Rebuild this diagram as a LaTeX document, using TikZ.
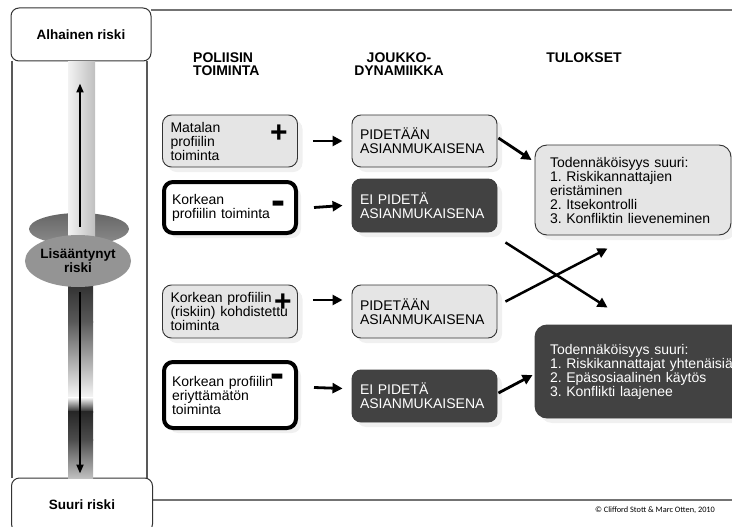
\documentclass[tikz,border=0pt]{standalone}
\usepackage{fontspec}
\setmainfont{Liberation Sans}
\newfontfamily\copyfont{Carlito}
\usetikzlibrary{arrows.meta,shadows,shapes.geometric}
\frenchspacing

\begin{document}
\begin{tikzpicture}[x=1pt, y=-1pt,
  >={Triangle[length=10pt, width=10pt]},
  txt/.style={font=\fontsize{14}{14}\selectfont},
  head/.style={font=\bfseries\fontsize{14}{13}\selectfont, inner sep=0pt},
  box/.style={txt, rounded corners=9pt, inner xsep=8pt, align=left,
    drop shadow={shadow xshift=5pt, shadow yshift=-5pt, opacity=0.12}},
  light/.style={box, draw=black!80, line width=0.9pt, fill=black!10},
  heavy/.style={box, draw=black, line width=4pt, fill=white},
  dark/.style={box, draw=black!75, line width=0.9pt, fill=black!74, text=white},
  riskbox/.style={draw=black!80, line width=1pt, fill=white, rounded corners=8pt,
    minimum width=140pt, minimum height=53pt, font=\bfseries\fontsize{13.5}{14}\selectfont},
  sign/.style={font=\bfseries\fontsize{30}{30}\selectfont, inner sep=0pt},
  minus/.style={font=\bfseries\fontsize{42}{42}\selectfont, inner sep=0pt, anchor=base},
  arr/.style={->, line width=2.8pt},
]
\useasboundingbox (0,0) rectangle (732,527);
\clip (0,0) rectangle (732,527);

\draw [line width=2pt, black!55] (151,10) -- (732,10);
\draw [line width=2pt, black!55] (152,500) -- (732,500);
\draw [line width=1.5pt, black!65] (12,61) -- (12,478);
\draw [line width=1.5pt, black!65] (147,61) -- (147,478);

\node[riskbox] (lowrisk) at (81,34.5) {Alhainen riski};
\node[riskbox, minimum width=141pt, minimum height=54pt] (highrisk) at (82,505) {Suuri riski};

\shade [top color=black!60, bottom color=black!45] (79,229) ellipse [x radius=50pt, y radius=16pt];
\shade [left color=black!5, right color=black!25] (68,62) rectangle (95,245);
\shade [top color=black!80, bottom color=black!65] (68,286) rectangle (93,322);
\shade [top color=black!65, bottom color=black!3] (68,321.5) rectangle (93,398);
\shade [top color=black!3, bottom color=black!85] (68,397.5) rectangle (93,412);
\shade [top color=black!85, bottom color=black!70] (68,411.5) rectangle (93,440);
\shade [top color=black!70, bottom color=black!25] (68,439.5) rectangle (93,478);

\node[ellipse, fill=black!42, minimum width=92pt, minimum height=52pt, inner sep=0pt,
  align=center, font=\bfseries\fontsize{13.5}{14}\selectfont] (midrisk) at (78,261) {Lisääntynyt\\riski};

\draw [->, line width=2pt, >={Triangle[length=9pt, width=7pt]}]
  ([xshift=2pt, yshift=8pt]midrisk.north) -- ([xshift=-1pt, yshift=-22pt]lowrisk.south);
\draw [->, line width=2pt, >={Triangle[length=9pt, width=7pt]}]
  ([xshift=2pt, yshift=-5pt]midrisk.south) -- ([xshift=-2pt, yshift=4pt]highrisk.north);

\node[head, anchor=west, align=left] (polhead) at (193,64) {POLIISIN\\TOIMINTA};
\node[head, align=center] (crowdhead) at (399,64) {JOUKKO-\\DYNAMIIKKA};
\node[head] (reshead) at (584,57.5) {TULOKSET};

\node[light, text width=119pt, minimum height=52pt] (pol1) at (230,141) {Matalan\\profiilin\\toiminta};
\node[heavy, text width=116pt, minimum height=51pt] (pol2) at (230,207.5) {Korkean\\profiilin toiminta};
\node[light, text width=119pt, minimum height=53pt] (pol3) at (230,311.5) {Korkean profiilin\\(riskiin) kohdistettu\\toiminta};
\node[heavy, text width=116pt, minimum height=66pt] (pol4) at (230,395) {Korkean profiilin\\eriyttämätön\\toiminta};

\node[sign] (plus1) at (279,134) {+};
\node[minus] (minus1) at (278,214) {-};
\node[sign] (plus2) at (283,303) {+};
\node[minus] (minus2) at (277,387) {-};

\node[light, text width=129pt, minimum height=52pt] (crowd1) at (424.5,141) {PIDETÄÄN\\ASIANMUKAISENA};
\node[dark, text width=129pt, minimum height=53pt] (crowd2) at (424.5,205.5) {EI PIDETÄ\\ASIANMUKAISENA};
\node[light, text width=129pt, minimum height=53pt] (crowd3) at (424.5,311.5) {PIDETÄÄN\\ASIANMUKAISENA};
\node[dark, text width=129pt, minimum height=52pt] (crowd4) at (424.5,396) {EI PIDETÄ\\ASIANMUKAISENA};

\node[light, inner xsep=15pt, rounded corners=12pt, text width=166pt, minimum height=90pt] (res1) at (633,190)
  {Todennäköisyys suuri:\\1. Riskikannattajien\\eristäminen\\2. Itsekontrolli\\3. Konfliktin lieveneminen};
\node[dark, inner xsep=15pt, rounded corners=12pt, text width=200pt, minimum height=93pt] (res2) at (650,371.5)
  {Todennäköisyys suuri:\\1. Riskikannattajat yhtenäisiä\\2. Epäsosiaalinen käytös\\3. Konflikti laajenee};

\draw [arr] ([xshift=15pt]pol1.east) -- ([xshift=-9pt]crowd1.west);
\draw [arr] ([xshift=16pt]pol2.east) -- ([xshift=-9pt]crowd2.west);
\draw [arr] ([xshift=15pt, yshift=11.5pt]pol3.east) -- ([xshift=-9pt, yshift=11.5pt]crowd3.west);
\draw [arr] ([xshift=16pt, yshift=7.5pt]pol4.east) -- ([xshift=-9pt, yshift=7.5pt]crowd4.west);

\draw [arr] ([xshift=1pt, yshift=3pt]crowd1.east) -- ([xshift=-3pt, yshift=30pt]res1.west);
\draw [arr] ([xshift=1pt, yshift=3pt]crowd4.east) -- ([xshift=-2pt, yshift=-3.5pt]res2.west);
\draw [arr, line width=2.5pt] ([xshift=8pt, yshift=-10pt]crowd2.south east) -- ([xshift=73pt, yshift=17pt]res2.north west);
\draw [arr, line width=2.5pt] ([xshift=8pt, yshift=-17pt]crowd3.north east) -- ([xshift=73pt, yshift=-13pt]res1.south west);

\node[font=\copyfont\fontsize{8.3}{8.3}\selectfont] (credit) at (655,510) {© Clifford Stott \& Marc Otten, 2010};

\end{tikzpicture}
\end{document}
